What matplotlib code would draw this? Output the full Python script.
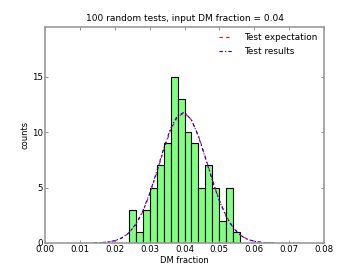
import matplotlib
matplotlib.use("Agg")
import matplotlib.pyplot as plt
import numpy as np

# histogram of fitted DM fractions (bin edges and counts)
bin_edges = [0.024, 0.026, 0.028, 0.030, 0.032, 0.034, 0.036, 0.038, 0.040,
             0.042, 0.044, 0.046, 0.048, 0.050, 0.052, 0.054, 0.056]
counts = [3, 1, 3, 5, 7, 9, 15, 13, 10, 9, 5, 7, 5, 2, 5, 1]

# curves
curve_x = [0.014, 0.016, 0.018, 0.020, 0.022, 0.024, 0.026, 0.028, 0.030,
           0.032, 0.034, 0.036, 0.038, 0.040, 0.042, 0.044, 0.046, 0.048,
           0.050, 0.052, 0.054, 0.056, 0.058, 0.060, 0.062, 0.064, 0.066]
expectation = [0.01, 0.03, 0.08, 0.20, 0.44, 0.88, 1.64, 2.79, 4.38,
               6.30, 8.35, 10.18, 11.40, 11.74, 11.11, 9.68, 7.74, 5.70,
               3.86, 2.40, 1.37, 0.72, 0.35, 0.16, 0.06, 0.02, 0.01]
results = [0.01, 0.03, 0.09, 0.21, 0.46, 0.91, 1.69, 2.86, 4.47,
           6.42, 8.50, 10.33, 11.52, 11.80, 11.10, 9.62, 7.66, 5.62,
           3.80, 2.36, 1.34, 0.70, 0.34, 0.15, 0.06, 0.02, 0.01]

xticks = [0.00, 0.01, 0.02, 0.03, 0.04, 0.05, 0.06, 0.07, 0.08]
yticks = [0, 5, 10, 15]

fig = plt.figure(figsize=(3.6, 2.7), dpi=100)
ax = fig.add_axes([0.125, 0.1, 0.775, 0.8])

widths = np.diff(bin_edges)
ax.bar(bin_edges[:-1], counts, width=widths, align='edge', color='#80ff80',
       edgecolor='black', linewidth=0.8)
ax.plot(curve_x, expectation, color='red', linestyle='--', linewidth=0.8,
        dashes=(3, 3), label='Test expectation')
ax.plot(curve_x, results, color='blue', linestyle='-.', linewidth=0.8,
        dashes=(3, 2, 1, 2), label='Test results')

ax.set_xlim(0, 0.08)
ax.set_ylim(0, 19.5)
ax.set_xticks(xticks)
ax.set_xticklabels([f'{t:.2f}' for t in xticks])
ax.set_yticks(yticks)
ax.tick_params(direction='in', length=2.5, width=0.6, color='gray',
               labelsize=6.2, top=True, right=True, pad=1.5)
for s in ax.spines.values():
    s.set_color('#999999')
    s.set_linewidth(1.2)

ax.set_title('100 random tests, input DM fraction = 0.04', fontsize=6.5, pad=4)
ax.set_xlabel('DM fraction', fontsize=6, labelpad=1.5)
ax.set_ylabel('counts', fontsize=6, labelpad=2)
ax.legend(loc='upper right', frameon=False, fontsize=6.4, handlelength=1.5,
          handletextpad=1.4, borderaxespad=0.3, labelspacing=0.55)

fig.savefig('out.png', dpi=100)
